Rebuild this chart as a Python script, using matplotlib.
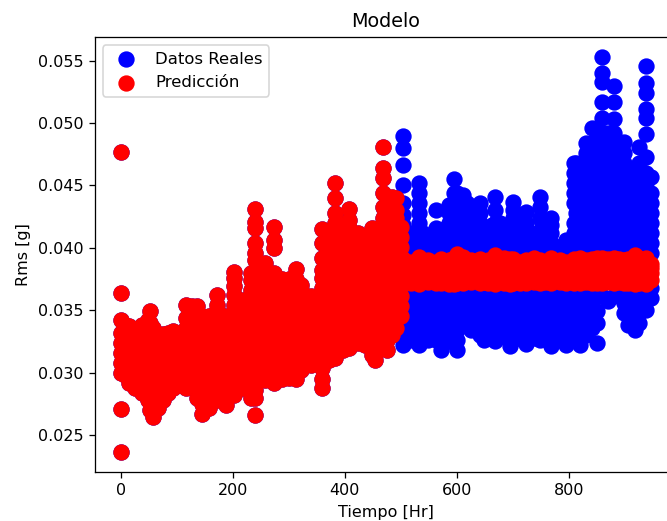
import numpy as np
import matplotlib
matplotlib.use('Agg')
import matplotlib.pyplot as plt

# values, rms in 1e-4 g, one list per time column
t_ini = [0, 8, 15, 26, 37, 48, 52, 57, 66, 75, 84, 93, 102, 117, 128, 136, 145, 158, 171, 187,
         202, 218, 233, 240, 257, 273, 287, 300, 312, 322, 340, 360, 372, 383, 396, 407,
         424, 436, 448, 454, 468, 476, 485, 492, 500]
rms_ini = [
    [236, 271, 300, 308, 316, 324, 332, 342, 364, 477],
    [298, 306, 314, 322, 330, 338],
    [292, 300, 308, 316, 324, 332, 337],
    [288, 296, 304, 312, 320, 328, 333],
    [284, 292, 300, 308, 316, 324, 332, 338],
    [278, 286, 294, 302, 310, 318, 326, 334, 342],
    [270, 340, 349],
    [264, 272, 280, 288, 296, 304, 312, 320, 328, 336],
    [272, 280, 288, 296, 304, 312, 320, 330],
    [278, 286, 294, 302, 310, 318, 326, 331],
    [284, 292, 300, 308, 316, 324, 332],
    [288, 296, 304, 312, 320, 328, 333],
    [290, 298, 306, 314, 322, 330],
    [288, 296, 304, 312, 320, 328, 336, 344, 354],
    [290, 298, 306, 314, 322, 330, 338, 346, 353],
    [280, 288, 296, 304, 312, 320, 328, 336, 344, 353],
    [267, 275, 283, 291, 299, 307, 315, 323, 331, 339, 345],
    [272, 280, 288, 296, 304, 312, 320, 328, 336, 345],
    [278, 286, 294, 302, 310, 318, 326, 334, 342, 350, 354, 362],
    [274, 282, 290, 298, 306, 314, 322, 330, 338, 345],
    [282, 290, 298, 306, 314, 322, 330, 338, 346, 354, 362, 369, 376, 381],
    [288, 296, 304, 312, 320, 328, 336, 344, 352, 358],
    [280, 286, 294, 302, 310, 318, 326, 334, 342, 350, 358, 366, 374, 380],
    [266, 280, 286, 294, 302, 310, 318, 326, 334, 342, 350, 358, 366, 374, 382, 390, 396, 404, 416, 421, 431],
    [294, 302, 310, 318, 326, 334, 342, 350, 358, 366, 374, 382, 388],
    [292, 300, 308, 316, 324, 332, 340, 348, 356, 364, 372, 380, 400, 406, 417],
    [295, 303, 311, 319, 327, 335, 343, 351, 359, 367, 375],
    [296, 304, 312, 320, 328, 336, 344, 352, 360, 368, 375],
    [295, 303, 311, 319, 327, 335, 343, 351, 359, 367, 375, 383],
    [302, 310, 318, 326, 334, 342, 350, 358, 366, 370],
    [306, 314, 322, 330, 338, 346, 354, 361],
    [288, 295, 304, 312, 320, 328, 336, 344, 352, 360, 368, 376, 382, 392, 404, 415],
    [310, 318, 326, 334, 342, 350, 358, 366, 374, 382, 390, 398, 406, 412],
    [312, 320, 328, 336, 344, 352, 360, 368, 376, 384, 392, 400, 410, 420, 428, 440, 452],
    [318, 326, 334, 342, 350, 358, 366, 374, 382, 390, 398, 406, 414, 418],
    [320, 328, 336, 344, 352, 360, 368, 376, 384, 392, 400, 408, 416, 422, 431],
    [324, 332, 340, 348, 356, 364, 372, 380, 388, 396, 404, 412],
    [322, 330, 338, 346, 354, 362, 370, 378, 386, 394, 402, 408],
    [314, 322, 330, 338, 346, 354, 362, 370, 378, 386, 394, 402, 410, 416],
    [310, 318, 326, 334, 342, 350, 358, 366, 374, 382, 390, 398, 406, 414],
    [320, 328, 336, 344, 352, 360, 368, 376, 384, 392, 400, 408, 416, 424, 433, 444, 456, 464, 481],
    [318, 326, 334, 342, 350, 358, 366, 374, 382, 390, 398, 406, 414, 422],
    [330, 338, 346, 354, 362, 370, 378, 386, 394, 402, 410, 418, 426, 434, 441],
    [336, 344, 352, 360, 368, 376, 384, 392, 400, 408, 416, 424, 430, 440],
    [345, 353, 361, 369, 377, 385, 393, 401, 409, 417],
]

t_fin = [504, 519, 533, 548, 563, 572, 586, 595, 600, 611, 625, 641, 648, 655, 669, 684, 695,
         700, 712, 724, 738, 748, 758, 769, 785, 795, 809, 813, 820, 830, 841, 850, 860, 870,
         881, 890, 898, 905, 918, 925, 938, 946]
rms_fin = [
    [322, 330, 338, 346, 354, 362, 408, 418, 426, 436, 450, 466, 480, 490],
    [326, 334, 342, 350, 358, 366, 396, 404, 412],
    [322, 330, 338, 346, 354, 362, 396, 404, 412, 420, 428, 436, 444, 452],
    [326, 334, 342, 350, 358, 366, 396, 404, 408],
    [326, 334, 342, 350, 358, 366, 396, 404, 416, 430],
    [318, 326, 334, 342, 350, 358, 366, 396, 404, 414],
    [328, 336, 344, 352, 360, 368, 396, 404, 412, 420, 428, 434],
    [324, 332, 340, 348, 356, 364, 396, 404, 412, 420, 428, 436, 444, 455],
    [318, 326, 334, 342, 350, 358, 366, 396, 404, 412, 420, 428, 436, 444],
    [338, 346, 354, 362, 396, 404, 412, 420, 428, 436, 442],
    [334, 342, 350, 358, 366, 396, 404, 412, 420, 428, 432],
    [330, 338, 346, 354, 362, 396, 404, 412, 420, 428, 436],
    [326, 334, 342, 350, 358, 366, 396, 404, 412, 416],
    [332, 340, 348, 356, 364, 396, 404, 412, 416],
    [325, 333, 341, 349, 357, 365, 396, 404, 412, 420, 430, 441],
    [330, 338, 346, 354, 362, 396, 404, 410],
    [321, 329, 337, 345, 353, 361, 396, 404, 412, 416],
    [326, 334, 342, 350, 358, 366, 396, 404, 416, 424, 430, 437],
    [330, 338, 346, 354, 362, 396, 404],
    [323, 331, 339, 347, 355, 363, 396, 404, 412, 420, 429],
    [328, 336, 344, 352, 360, 368, 396, 400],
    [326, 334, 342, 350, 358, 366, 396, 404, 412, 424, 433, 441],
    [330, 338, 346, 354, 362, 396, 404, 410],
    [321, 329, 337, 345, 353, 361, 396, 404, 412, 418, 424],
    [328, 336, 344, 352, 360, 368],
    [322, 330, 338, 346, 354, 362, 396, 400, 406],
    [328, 336, 344, 352, 360, 396, 404, 412, 420, 436, 444, 452, 460, 468],
    [326, 334, 342, 350, 358, 366, 396, 404, 412, 420, 428, 444, 455, 468],
    [322, 330, 338, 346, 354, 362, 396, 404, 412, 420, 428, 440, 448, 456],
    [330, 338, 346, 354, 362, 396, 404, 412, 420, 428, 436, 444, 452, 460, 468, 476, 484],
    [336, 344, 352, 360, 396, 404, 412, 420, 428, 436, 444, 452, 460, 468, 476, 484, 496],
    [324, 340, 349, 361, 396, 404, 412, 420, 428, 436, 444, 452, 460, 468, 476, 484, 492],
    [361, 396, 404, 412, 420, 428, 436, 444, 452, 460, 468, 476, 484, 492, 504, 517, 533, 540, 553],
    [357, 396, 404, 412, 420, 428, 436, 444, 452, 460, 468, 476, 484, 492],
    [361, 396, 404, 412, 420, 428, 436, 444, 452, 460, 468, 476, 484, 492, 503, 517, 530],
    [364, 396, 404, 412, 420, 428, 436, 444, 452, 460, 468, 476, 484],
    [348, 356, 364, 396, 404, 412, 420, 428, 436, 444, 452, 460, 468, 476, 485],
    [338, 346, 354, 362, 396, 404, 412, 420, 428, 436, 444, 452, 460],
    [334, 342, 350, 358, 366, 396, 404, 412, 420, 428, 436, 444, 452, 460],
    [340, 348, 356, 364, 396, 404, 412, 420, 428, 436, 444, 452, 460, 468, 481],
    [350, 358, 366, 396, 404, 412, 420, 428, 436, 444, 452, 460, 473, 491, 504, 511, 524, 532, 546],
    [360, 368, 396, 404, 412, 420, 428, 436, 444, 457],
]
# blue columns in between the ones above, where the cloud is solid
t_extra = [511, 526, 540, 556, 578, 592, 618, 633, 662, 677, 690, 706, 718, 731, 743, 753, 764, 777, 790, 802]
rms_extra = [
    [330, 338, 346, 354, 362, 396, 404, 410],
    [332, 340, 348, 356, 364, 396, 404, 412],
    [336, 344, 352, 360, 396, 404, 412],
    [330, 338, 346, 354, 362, 396, 404, 410],
    [328, 336, 344, 352, 360, 396, 404, 412],
    [336, 344, 352, 360, 396, 404, 412, 420, 428],
    [342, 350, 358, 396, 404, 412, 420, 428, 436],
    [338, 346, 354, 362, 396, 404, 412, 420, 428],
    [336, 344, 352, 360, 396, 404, 412, 418],
    [334, 342, 350, 358, 396, 404, 412, 420],
    [328, 336, 344, 352, 360, 396, 404, 412],
    [334, 342, 350, 358, 396, 404, 412, 420],
    [336, 344, 352, 360, 396, 404, 412, 420],
    [332, 340, 348, 356, 396, 404, 412],
    [334, 342, 350, 358, 396, 404, 412],
    [330, 338, 346, 354, 362, 396, 404, 412, 420],
    [332, 340, 348, 356, 396, 404, 412, 418],
    [328, 336, 344, 352, 360, 396],
    [326, 334, 342, 350, 358, 396, 402],
    [326, 334, 342, 350, 358, 396, 404],
]
# prediction band after t=500, one list per t_fin column
pred_fin = [
    [371, 378, 385, 391], [372, 378, 385, 389], [371, 379, 386, 393], [373, 380, 386, 390],
    [372, 378, 384, 389], [372, 379, 385, 391], [371, 378, 384, 390], [371, 379, 386, 392],
    [372, 380, 387, 395], [372, 379, 385, 393], [373, 380, 386, 390], [372, 379, 385, 391],
    [373, 379, 385, 389], [372, 378, 384, 390], [371, 379, 387, 394], [372, 379, 385, 392],
    [371, 378, 385, 391], [372, 379, 386, 391], [372, 379, 385, 389], [372, 378, 385, 390],
    [373, 380, 386, 392], [372, 379, 385, 390], [373, 379, 385, 389], [372, 379, 385, 392],
    [373, 379, 385, 390], [372, 379, 385, 389], [372, 378, 385, 391], [373, 380, 386, 390],
    [372, 378, 385, 392], [373, 379, 385, 390], [372, 378, 385, 391], [372, 379, 386, 392],
    [372, 379, 386, 392], [373, 379, 385, 391], [372, 378, 385, 392], [373, 380, 386, 391],
    [372, 379, 385, 390], [372, 378, 385, 391], [371, 378, 385, 394], [372, 379, 385, 392],
    [371, 378, 385, 392], [374, 380, 384, 387],
]


def expand(times, columns):
    x = []
    y = []
    for t, col in zip(times, columns):
        for v in col:
            x.append(t)
            y.append(v / 1e4)
    return x, y


x_ini, y_ini = expand(t_ini, rms_ini)
x_fin, y_fin = expand(t_fin, rms_fin)
x_extra, y_extra = expand(t_extra, rms_extra)
x_pred, y_pred = expand(t_fin, pred_fin)

fig = plt.figure(figsize=(667 / 115, 521 / 115), dpi=115)
# the right edge of the axes falls outside the saved picture
ax = fig.add_axes([94.5 / 667, 1 - 472 / 521, 582 / 667, 435 / 521])

ax.scatter(x_ini + x_fin + x_extra, y_ini + y_fin + y_extra, s=85, c='blue', label='Datos Reales')
ax.scatter(x_ini + x_pred, y_ini + y_pred, s=85, c='red', label='Predicción')

ax.set_xlim(-47, 992.3)
ax.set_ylim(0.02203, 0.0569)
ax.set_xticks([0, 200, 400, 600, 800])
ax.set_yticks([0.025, 0.030, 0.035, 0.040, 0.045, 0.050, 0.055])
ax.set_title('Modelo')
ax.set_xlabel('Tiempo [Hr]')
ax.set_ylabel('Rms [g]')
ax.legend(loc='upper left', fontsize=10.3)

plt.savefig('out.png', dpi=115)
